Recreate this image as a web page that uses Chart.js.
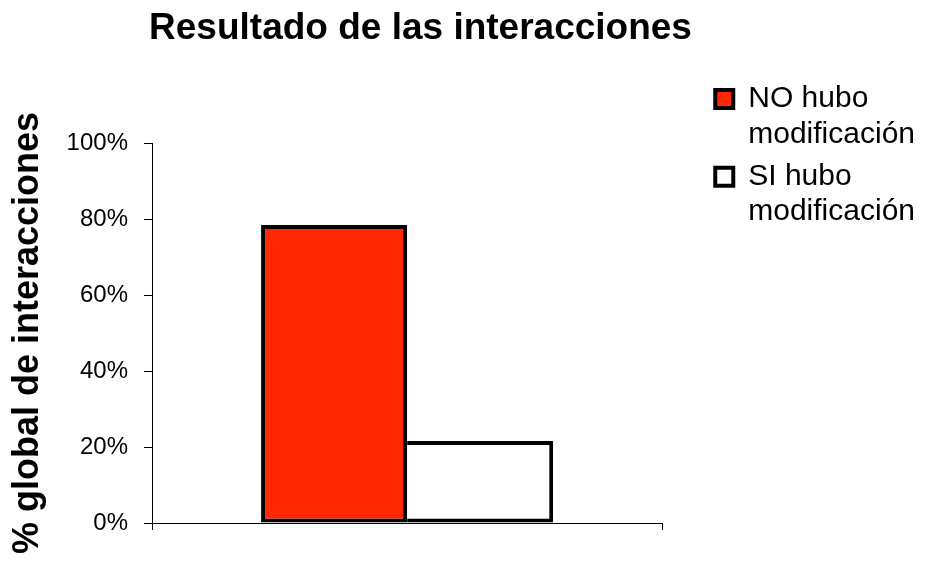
<!DOCTYPE html>
<html>
<head>
<meta charset="utf-8">
<script src="https://cdn.jsdelivr.net/npm/chart.js@4"></script>
<style>
    body { margin: 0; background: #fff; }
    #wrap { width: 925px; height: 571px; }
</style>
</head>
<body>
<div id="wrap"><canvas id="barChart"></canvas></div>
<script>
// datos
const categories = [''];
const seriesLabels = [['NO hubo', 'modificación'], ['SI hubo', 'modificación']];
const noModValues = [78.4];
const siModValues = [21.6];
const yTicks = [0, 20, 40, 60, 80, 100];

// el título del original es más ancho que el área del gráfico
const wideTitle = {
    id: 'wideTitle',
    afterLayout(chart) {
        const t = chart.titleBlock;
        if (t) {
            t.left = 130;
            t.right = 711;
            t.width = t.right - t.left;
        }
    }
};

document.addEventListener("DOMContentLoaded", function() {
    const ctx = document.getElementById('barChart').getContext('2d');

    new Chart(ctx, {
        type: 'bar',
        data: {
            labels: categories,
            datasets: [{
                label: seriesLabels[0],
                data: noModValues,
                backgroundColor: '#FF2800',
                borderColor: '#000000',
                borderWidth: 4,
                borderSkipped: false
            }, {
                label: seriesLabels[1],
                data: siModValues,
                backgroundColor: '#FFFFFF',
                borderColor: '#000000',
                borderWidth: 4,
                borderSkipped: 'left'   // comparte el borde con la barra roja
            }]
        },
        plugins: [wideTitle],
        options: {
            responsive: true,
            maintainAspectRatio: false,
            animation: false,
            layout: {
                padding: { top: 0, left: 0, right: 0, bottom: 41 }
            },
            datasets: {
                bar: {
                    categoryPercentage: 0.5725,
                    barPercentage: 1.0
                }
            },
            plugins: {
                tooltip: { enabled: false },
                title: {
                    display: true,
                    fullSize: false,
                    text: 'Resultado de las interacciones',
                    color: '#000',
                    font: { family: '"Liberation Sans", Arial, sans-serif', size: 37, weight: 'bold', lineHeight: 1.2 },
                    padding: { top: 7, bottom: 91.6 }
                },
                legend: {
                    position: 'right',
                    align: 'start',
                    fullSize: true,
                    maxWidth: 300,
                    title: {
                        display: true,
                        text: '',
                        font: { size: 10, lineHeight: 1 },
                        padding: { top: 67, bottom: 0 }
                    },
                    labels: {
                        color: '#000',
                        boxWidth: 18,
                        boxHeight: 18,
                        padding: 7,
                        font: { family: '"Liberation Sans", Arial, sans-serif', size: 30, lineHeight: 1.18 }
                    }
                }
            },
            scales: {
                x: {
                    offset: true,
                    ticks: { display: false },
                    grid: {
                        offset: true,
                        drawOnChartArea: false,
                        drawTicks: true,
                        tickLength: 7,
                        color: '#000'
                    },
                    border: { display: true, color: '#000', width: 1 }
                },
                y: {
                    min: 0,
                    max: 100,
                    afterBuildTicks: function(scale) {
                        scale.ticks = yTicks.map(v => ({ value: v }));
                    },
                    afterFit: function(scale) { scale.width = 152; },
                    ticks: {
                        color: '#000',
                        padding: 16,
                        font: { family: '"Liberation Sans", Arial, sans-serif', size: 24 },
                        callback: function(value) { return value + '%'; }
                    },
                    grid: {
                        drawOnChartArea: false,
                        drawTicks: true,
                        tickLength: 8,
                        color: '#000'
                    },
                    border: { display: true, color: '#000', width: 1 },
                    title: {
                        display: true,
                        text: '% global de interacciones',
                        color: '#000',
                        font: { family: '"Liberation Sans", Arial, sans-serif', size: 36, weight: 'bold', lineHeight: 1.2 },
                        padding: { top: 6, bottom: 12 }
                    }
                },
                // espacio vacío entre el gráfico y la leyenda
                spacer: {
                    type: 'linear',
                    position: 'right',
                    display: true,
                    ticks: { display: false },
                    grid: { display: false },
                    border: { display: false },
                    afterFit: function(scale) { scale.width = 46; }
                }
            }
        }
    });
});
</script>
</body>
</html>
